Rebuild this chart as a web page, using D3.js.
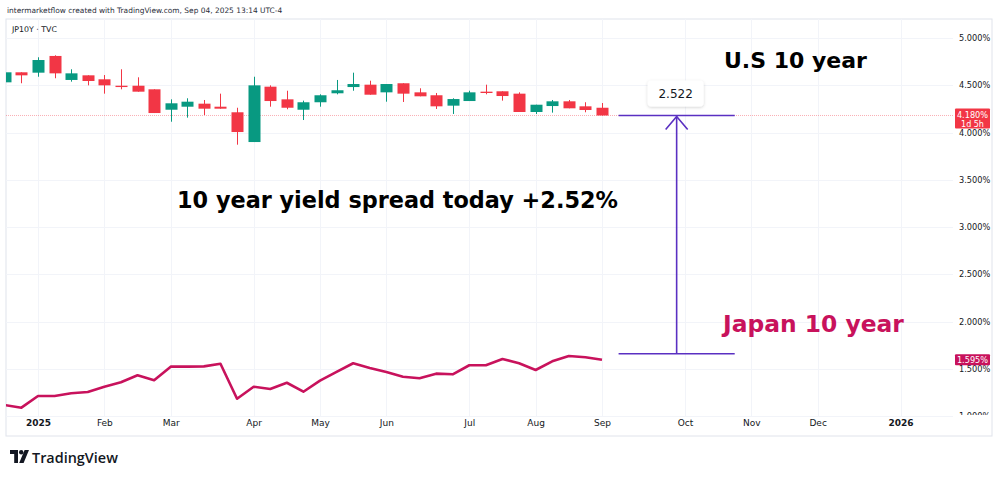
<!DOCTYPE html>
<html>
<head>
<meta charset="utf-8">
<script src="https://cdn.jsdelivr.net/npm/d3@7/dist/d3.min.js"></script>
<style>
  body { margin: 0; background: #fff; }
  svg { display: block; font-family: "DejaVu Sans", sans-serif; }
</style>
</head>
<body>
<div id="chart"></div>
<script>
// Weekly bars, dated on the Monday of each week
const weeks = ["2024-12-23", "2024-12-30", "2025-01-06", "2025-01-13", "2025-01-20", "2025-01-27",
  "2025-02-03", "2025-02-10", "2025-02-17", "2025-02-24", "2025-03-03", "2025-03-10", "2025-03-17",
  "2025-03-24", "2025-03-31", "2025-04-07", "2025-04-14", "2025-04-21", "2025-04-28", "2025-05-05",
  "2025-05-12", "2025-05-19", "2025-05-26", "2025-06-02", "2025-06-09", "2025-06-16", "2025-06-23",
  "2025-06-30", "2025-07-07", "2025-07-14", "2025-07-21", "2025-07-28", "2025-08-04", "2025-08-11",
  "2025-08-18", "2025-08-25", "2025-09-01"]

// US 10 year (candles)
const usOpen = [4.531, 4.637, 4.633, 4.810, 4.556, 4.605, 4.563, 4.495, 4.495, 4.457, 4.241, 4.273, 4.305,
  4.273, 4.214, 3.899, 4.485, 4.351, 4.241, 4.320, 4.415, 4.481, 4.506, 4.425, 4.521, 4.425, 4.394,
  4.284, 4.333, 4.432, 4.436, 4.411, 4.217, 4.280, 4.330, 4.277, 4.262]
const usHigh = [4.640, 4.637, 4.796, 4.817, 4.669, 4.605, 4.608, 4.669, 4.584, 4.457, 4.351, 4.362, 4.344,
  4.411, 4.262, 4.590, 4.499, 4.442, 4.337, 4.404, 4.556, 4.633, 4.548, 4.513, 4.521, 4.468, 4.418,
  4.362, 4.442, 4.506, 4.436, 4.425, 4.294, 4.344, 4.344, 4.320, 4.312]
const usLow = [4.524, 4.521, 4.590, 4.574, 4.538, 4.499, 4.411, 4.457, 4.432, 4.206, 4.114, 4.157, 4.185,
  4.252, 3.871, 3.899, 4.273, 4.246, 4.132, 4.273, 4.404, 4.442, 4.400, 4.326, 4.323, 4.383, 4.249,
  4.196, 4.333, 4.404, 4.337, 4.217, 4.196, 4.210, 4.256, 4.214, 4.180]
const usClose = [4.637, 4.605, 4.767, 4.626, 4.626, 4.545, 4.499, 4.481, 4.432, 4.206, 4.309, 4.326, 4.252,
  4.252, 4.005, 4.499, 4.333, 4.262, 4.320, 4.394, 4.447, 4.513, 4.400, 4.513, 4.411, 4.383, 4.277,
  4.354, 4.425, 4.418, 4.386, 4.217, 4.294, 4.330, 4.256, 4.238, 4.180]

// Japan 10 year (line)
const jpYield = [1.116, 1.088, 1.212, 1.212, 1.240, 1.254, 1.310, 1.357, 1.431, 1.378, 1.522, 1.522, 1.525,
  1.553, 1.183, 1.310, 1.286, 1.352, 1.257, 1.374, 1.466, 1.558, 1.508, 1.466, 1.416, 1.399, 1.448,
  1.441, 1.537, 1.537, 1.603, 1.558, 1.487, 1.579, 1.635, 1.621, 1.595]

const priceTicks = [1.0, 1.5, 2.0, 2.5, 3.0, 3.5, 4.0, 4.5, 5.0]
const timeTicks = ["2025-01-06", "2025-02-03", "2025-03-03", "2025-04-07", "2025-05-05", "2025-06-02",
  "2025-07-07", "2025-08-04", "2025-09-01", "2025-10-06", "2025-11-03", "2025-12-01", "2026-01-05"]
const timeLabels = ["2025", "Feb", "Mar", "Apr", "May", "Jun", "Jul", "Aug", "Sep", "Oct", "Nov", "Dec", "2026"]

const lastUs = 4.180
const lastJp = 1.595
const spread = 2.522
const spreadFrom = "2025-09-08"
const spreadTo = "2025-10-27"

const parse = d3.utcParse("%Y-%m-%d")
const upColor = "#089981"
const downColor = "#f23645"
const jpColor = "#c8125c"
const arrowColor = "#5a30c2"
const textColor = "#131722"

// Chart dimensions
const width = 1000
const height = 477
const plot = { left: 6, right: 953, top: 19, bottom: 417 }
const frame = { left: 6, right: 992, top: 19, bottom: 436 }

const svg = d3.select("#chart")
  .append("svg")
  .attr("width", width)
  .attr("height", height)

// Scales
const x = d3.scaleUtc()
  .domain([parse("2025-01-06"), parse("2025-09-01")])
  .range([38, 602])

const y = d3.scaleLinear()
  .domain([1, 5])
  .range([416, 38])

// shrink a text until it spans the wanted width
function fitText(sel, w) {
  let size = parseFloat(sel.attr("font-size"))
  let len = sel.node().getComputedTextLength()
  sel.attr("font-size", size * w / len)
}

svg.append("defs").append("clipPath")
  .attr("id", "plot-clip")
  .append("rect")
  .attr("x", plot.left)
  .attr("y", plot.top)
  .attr("width", plot.right - plot.left)
  .attr("height", plot.bottom - plot.top)

svg.select("defs").append("clipPath")
  .attr("id", "axis-clip")
  .append("rect")
  .attr("x", plot.right)
  .attr("y", plot.top)
  .attr("width", frame.right - plot.right)
  .attr("height", plot.bottom - plot.top - 2)

svg.select("defs").append("filter")
  .attr("id", "shadow")
  .attr("x", "-30%").attr("y", "-30%").attr("width", "160%").attr("height", "160%")
  .append("feDropShadow")
  .attr("dx", 0).attr("dy", 1).attr("stdDeviation", 1.5)
  .attr("flood-color", "#000").attr("flood-opacity", 0.18)

// Header
svg.append("text")
  .attr("x", 7)
  .attr("y", 13)
  .attr("font-size", 10)
  .attr("fill", "#2a2e39")
  .text("intermarketflow created with TradingView.com, Sep 04, 2025 13:14 UTC-4")
  .call(fitText, 276)

// Frame
svg.append("rect")
  .attr("x", frame.left)
  .attr("y", frame.top)
  .attr("width", frame.right - frame.left)
  .attr("height", frame.bottom - frame.top)
  .attr("fill", "none")
  .attr("stroke", "#e0e3eb")

// Grid
const grid = svg.append("g").attr("class", "grid")
grid.selectAll("line.h")
  .data(priceTicks)
  .enter().append("line")
  .attr("class", "h")
  .attr("x1", plot.left)
  .attr("x2", plot.right)
  .attr("y1", d => Math.round(y(d)) + 0.5)
  .attr("y2", d => Math.round(y(d)) + 0.5)
  .attr("stroke", "#f2f4f9")

grid.selectAll("line.v")
  .data(timeTicks)
  .enter().append("line")
  .attr("class", "v")
  .attr("x1", d => Math.round(x(parse(d))) + 0.5)
  .attr("x2", d => Math.round(x(parse(d))) + 0.5)
  .attr("y1", plot.top)
  .attr("y2", plot.bottom)
  .attr("stroke", "#f2f4f9")

svg.append("text")
  .attr("x", 12)
  .attr("y", 32)
  .attr("font-size", 9)
  .attr("fill", textColor)
  .text("JP10Y · TVC")
  .call(fitText, 45)

// Price axis
const priceAxis = d3.axisRight(y)
  .tickValues(priceTicks)
  .tickFormat(d => d3.format(".3f")(d) + "%")
  .tickSize(0)
  .tickPadding(0)

svg.append("g")
  .attr("clip-path", "url(#axis-clip)")
  .append("g")
  .attr("class", "y axis")
  .attr("transform", "translate(959,0)")
  .call(priceAxis)
  .call(g => g.select(".domain").remove())
  .call(g => g.selectAll("text")
    .attr("font-family", "DejaVu Sans, sans-serif")
    .attr("font-size", 8.2)
    .attr("fill", textColor))

// Time axis
const timeAxis = d3.axisBottom(x)
  .tickValues(timeTicks.map(parse))
  .tickFormat((d, i) => timeLabels[i])
  .tickSize(0)
  .tickPadding(0)

svg.append("g")
  .attr("class", "x axis")
  .attr("transform", `translate(0,${plot.bottom + 3})`)
  .call(timeAxis)
  .call(g => g.select(".domain").remove())
  .call(g => g.selectAll("text")
    .attr("font-family", "DejaVu Sans, sans-serif")
    .attr("font-size", 9)
    .attr("font-weight", (d, i) => /^\d+$/.test(timeLabels[i]) ? "bold" : "normal")
    .attr("fill", textColor))

const chart = svg.append("g")
  .attr("clip-path", "url(#plot-clip)")

// Last price line
chart.append("line")
  .attr("x1", plot.left)
  .attr("x2", plot.right)
  .attr("y1", y(lastUs))
  .attr("y2", y(lastUs))
  .attr("stroke", downColor)
  .attr("stroke-opacity", 0.4)
  .attr("stroke-dasharray", "1,1")

// Candles
const bars = weeks.map((w, i) => ({
  date: parse(w),
  open: usOpen[i],
  high: usHigh[i],
  low: usLow[i],
  close: usClose[i]
}))
const bodyWidth = 12

const candle = chart.append("g")
  .attr("class", "candles")
  .selectAll("g")
  .data(bars)
  .enter().append("g")
  .attr("fill", d => d.close >= d.open ? upColor : downColor)
  .attr("stroke", d => d.close >= d.open ? upColor : downColor)

candle.append("line")
  .attr("x1", d => Math.round(x(d.date)) + 0.5)
  .attr("x2", d => Math.round(x(d.date)) + 0.5)
  .attr("y1", d => y(d.high))
  .attr("y2", d => y(d.low))
  .attr("stroke-width", 1)

candle.append("rect")
  .attr("x", d => Math.round(x(d.date)) - bodyWidth / 2 + 0.5)
  .attr("y", d => y(Math.max(d.open, d.close)))
  .attr("width", bodyWidth)
  .attr("height", d => Math.max(1, Math.abs(y(d.open) - y(d.close))))
  .attr("stroke", "none")

// Japan line
const jpLine = d3.line()
  .x((d, i) => x(parse(weeks[i])))
  .y(d => y(d))

chart.append("path")
  .datum(jpYield)
  .attr("d", jpLine)
  .attr("fill", "none")
  .attr("stroke", jpColor)
  .attr("stroke-width", 2.6)
  .attr("stroke-linejoin", "round")

// Spread annotation
const xa = x(parse(spreadFrom))
const xb = x(parse(spreadTo))
const xm = (xa + xb) / 2
const yTop = y(lastUs)
const yBottom = y(lastUs - spread)

const note = svg.append("g")
  .attr("class", "spread")
  .attr("stroke", arrowColor)
  .attr("stroke-width", 1.6)
  .attr("fill", "none")

note.append("line").attr("x1", xa).attr("x2", xb).attr("y1", yTop).attr("y2", yTop)
note.append("line").attr("x1", xa).attr("x2", xb).attr("y1", yBottom).attr("y2", yBottom)
note.append("line").attr("x1", xm).attr("x2", xm).attr("y1", yTop + 1).attr("y2", yBottom)
note.append("path")
  .attr("d", `M${xm - 11},${yTop + 14} L${xm},${yTop + 1} L${xm + 11},${yTop + 14}`)

const tag = svg.append("g")
  .attr("transform", `translate(${xm - 1},${yTop - 22})`)

tag.append("rect")
  .attr("x", -28)
  .attr("y", -13)
  .attr("width", 56)
  .attr("height", 26)
  .attr("rx", 4)
  .attr("fill", "#fff")
  .attr("filter", "url(#shadow)")

tag.append("text")
  .attr("text-anchor", "middle")
  .attr("dy", "0.36em")
  .attr("font-size", 12)
  .attr("fill", textColor)
  .text(d3.format(".3f")(spread))

// Titles
svg.append("text")
  .attr("x", 724)
  .attr("y", 68)
  .attr("font-size", 24)
  .attr("font-weight", "bold")
  .attr("fill", "#000")
  .text("U.S 10 year")
  .call(fitText, 143)

svg.append("text")
  .attr("x", 177)
  .attr("y", 208)
  .attr("font-size", 26)
  .attr("font-weight", "bold")
  .attr("fill", "#000")
  .text("10 year yield spread today +2.52%")
  .call(fitText, 441)

svg.append("text")
  .attr("x", 723)
  .attr("y", 332)
  .attr("font-size", 27)
  .attr("font-weight", "bold")
  .attr("fill", jpColor)
  .text("Japan 10 year")
  .call(fitText, 181)

// Last value labels on the price axis
const usTag = svg.append("g")
  .attr("transform", `translate(955,${y(lastUs)})`)
usTag.append("rect")
  .attr("x", 0).attr("y", -7).attr("width", 35).attr("height", 20).attr("rx", 1)
  .attr("fill", downColor)
usTag.append("text")
  .attr("x", 17.5).attr("y", 3).attr("text-anchor", "middle")
  .attr("font-size", 8.2).attr("fill", "#fff")
  .text(d3.format(".3f")(lastUs) + "%")
usTag.append("text")
  .attr("x", 17.5).attr("y", 11.5).attr("text-anchor", "middle")
  .attr("font-size", 8).attr("fill", "#fff")
  .text("1d 5h")

const jpTag = svg.append("g")
  .attr("transform", `translate(955,${y(lastJp)})`)
jpTag.append("rect")
  .attr("x", 0).attr("y", -5.5).attr("width", 35).attr("height", 11).attr("rx", 1)
  .attr("fill", jpColor)
jpTag.append("text")
  .attr("x", 17.5).attr("y", 3).attr("text-anchor", "middle")
  .attr("font-size", 8.2).attr("fill", "#fff")
  .text(d3.format(".3f")(lastJp) + "%")

// Logo
const logo = svg.append("g")
  .attr("transform", "translate(10,450)")
  .attr("fill", textColor)
logo.append("path").attr("d", "M0,0 H8 V13 H4.2 V4 H0 Z")
logo.append("circle").attr("cx", 11.2).attr("cy", 2.2).attr("r", 2.2)
logo.append("path").attr("d", "M14.6,0 H19 L13.6,13 H9.2 Z")
svg.append("text")
  .attr("x", 32)
  .attr("y", 463)
  .attr("font-size", 16)
  .attr("font-weight", 600)
  .attr("font-family", "Open Sans, sans-serif")
  .attr("fill", textColor)
  .text("TradingView")
  .call(fitText, 86)
</script>
</body>
</html>
